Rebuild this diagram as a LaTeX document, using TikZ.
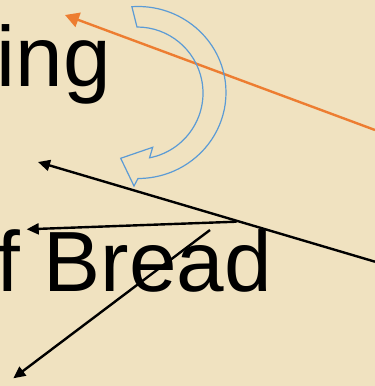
\documentclass[tikz,border=0pt]{standalone}
\usepackage{fontspec}
\setmainfont{Liberation Sans}
\usetikzlibrary{arrows.meta,calc}
\definecolor{parch}{RGB}{240,226,192}
\definecolor{ppblue}{RGB}{91,155,213}
\definecolor{pporange}{RGB}{237,125,49}
\begin{document}
\begin{tikzpicture}[x=1pt,y=1pt,
  bigtext/.style={font=\fontsize{85.5}{86}\selectfont, inner sep=0pt, anchor=base west, text=black},
  blk/.style={draw=black, line width=2.4pt, -{Triangle[length=12pt,width=11pt]}},
  org/.style={draw=pporange, line width=2.4pt, -{Triangle[length=14pt,width=15pt]}},
  uarrow/.style={draw=ppblue, line width=1.2pt, line join=miter}]
\fill[parch] (0,0) rectangle (375,386);
\useasboundingbox (0,0) rectangle (375,386);
\clip (0,0) rectangle (375,386);
\node[bigtext] (t1) at (-3.5,299) {ing};
\node[bigtext] (t2) at (-3.9,94.3) {f Bread};
\coordinate (oc) at (138,293.5);
\coordinate (ic) at (137,293);
\coordinate (otail) at (375,256);
\coordinate (otip) at (65,371);
\draw[org] (otail) -- (otip);
\draw[uarrow] ($(oc)+(94:88 and 86)$) coordinate (us)
  arc[start angle=94, end angle=-90, x radius=88, y radius=86]
  -- (134,200) coordinate (utip) -- (120.7,227.7) coordinate (ub1)
  -- (152.7,238.7) coordinate (ub2) -- ($(ic)+(-79:66)$)
  arc[start angle=-79, end angle=90, radius=66] -- cycle;
\coordinate (b1s) at (375,124.3);
\coordinate (b1e) at (38,224);
\coordinate (b2s) at (236.7,164.3);
\coordinate (b2e) at (26.7,156.7);
\coordinate (b3s) at (210,156);
\coordinate (b3e) at (13.3,7.7);
\draw[blk] (b1s) -- (b1e);
\draw[blk] (b2s) -- (b2e);
\draw[blk] (b3s) -- (b3e);
\end{tikzpicture}
\end{document}
